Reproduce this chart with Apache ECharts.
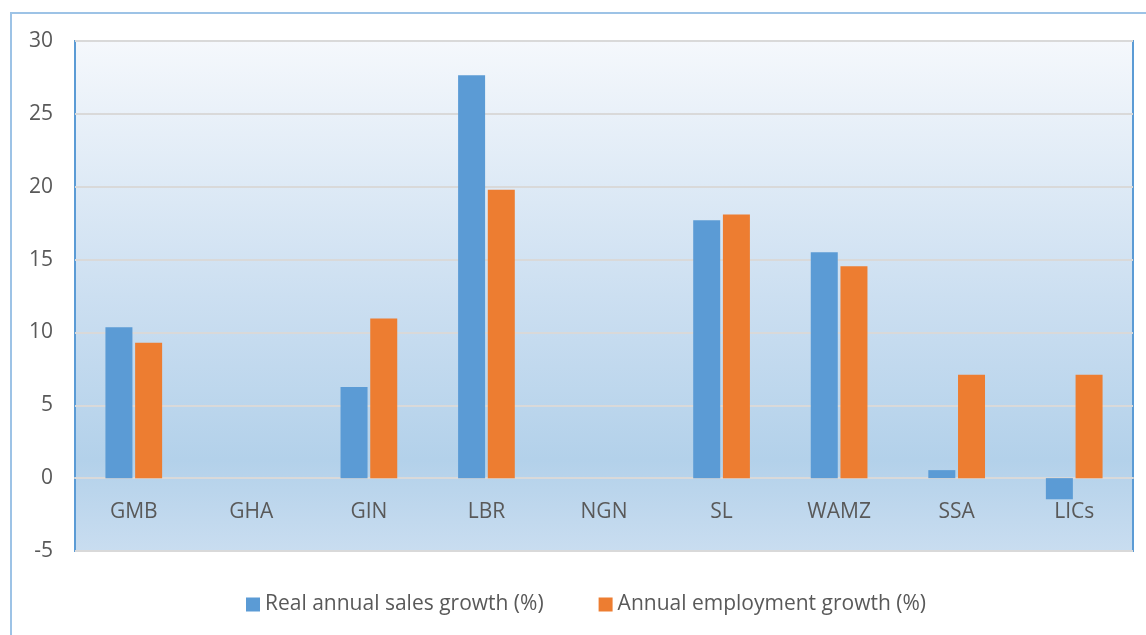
<!DOCTYPE html>
<html><head><meta charset="utf-8">
<script src="https://cdn.jsdelivr.net/npm/echarts@6/dist/echarts.min.js"></script>
<style>html,body{margin:0;padding:0;background:#fff}#c{width:1146px;height:635px}</style>
</head><body><div id="c"></div>
<script>
const categories = ['GMB','GHA','GIN','LBR','NGN','SL','WAMZ','SSA','LICs'];
const salesGrowth = [10.35, null, 6.25, 27.65, null, 17.7, 15.5, 0.55, -1.45];
const employmentGrowth = [9.3, null, 10.95, 19.8, null, 18.1, 14.55, 7.1, 7.1];
const seriesNames = ['Real annual sales growth (%)', 'Annual employment growth (%)'];

const chart = echarts.init(document.getElementById('c'));
const font = '"Open Sans", sans-serif';
chart.setOption({
  animation: false,
  graphic: [{type:'rect', shape:{x:11, y:13, width:1160, height:660}, style:{fill:'none', stroke:'#9DC3E6', lineWidth:2}, z:-10}],
  grid: {left:75, top:41, right:13, bottom:84, show:true, borderColor:'#5B9BD5', borderWidth:2,
    backgroundColor: new echarts.graphic.LinearGradient(0,0,0,1,[
      {offset:0,color:'#F5F8FC'},{offset:0.5,color:'#CCDFF1'},{offset:0.82,color:'#B3D1EA'},{offset:1,color:'#C9DDF0'}])},
  legend: {bottom:15, left:241, itemWidth:14, itemHeight:14, itemGap:55, icon:'rect',
    textStyle:{fontFamily:font, fontSize:21, color:'#595959'}, data:seriesNames},
  xAxis: {type:'category', data:categories, axisTick:{show:false}, offset:-73,
    axisLine:{onZero:false, lineStyle:{color:'#D9D9D9', width:2}},
    axisLabel:{fontFamily:font, fontSize:21, color:'#595959', margin:24}},
  yAxis: {type:'value', min:-5, max:30, interval:5,
    axisLabel:{fontFamily:font, fontSize:21, color:'#595959', margin:22},
    splitLine:{lineStyle:{color:'#D9D9D9', width:2}}, axisLine:{show:false}, axisTick:{show:false}},
  series: [
    {name:seriesNames[0], type:'bar', data:salesGrowth, barWidth:27, barGap:'10%', itemStyle:{color:'#5B9BD5'}},
    {name:seriesNames[1], type:'bar', data:employmentGrowth, barWidth:27, barGap:'10%', itemStyle:{color:'#ED7D31'}}
  ]
});
</script></body></html>
